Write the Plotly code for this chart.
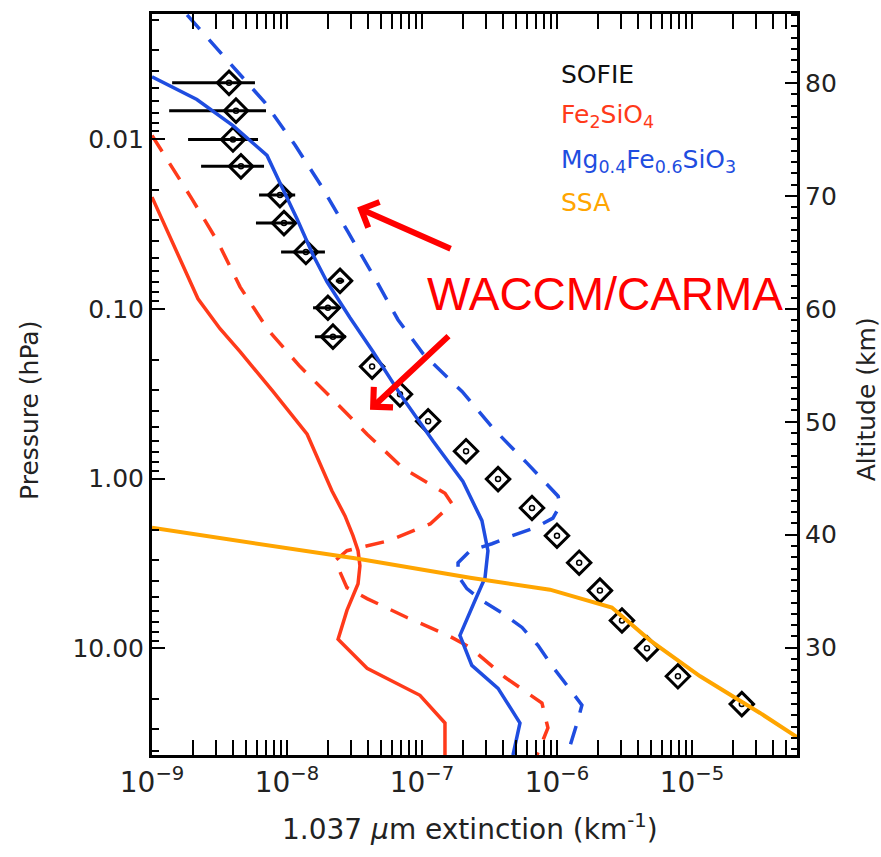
import plotly.graph_objects as go

# ---------------- data ----------------
# SOFIE observations: 1.037 um extinction (km^-1) vs pressure (hPa)
sofie_ext = [3.72e-9, 4.19e-9, 3.98e-9, 4.56e-9, 8.87e-9, 9.50e-9, 1.38e-8, 2.47e-8,
             2.01e-8, 2.19e-8, 4.27e-8, 6.87e-8, 1.11e-7, 2.12e-7, 3.66e-7, 6.53e-7,
             1.00e-6, 1.46e-6, 2.08e-6, 3.03e-6, 4.64e-6, 7.87e-6, 2.34e-5]
sofie_p = [0.00467, 0.00681, 0.01007, 0.01449, 0.0214, 0.0313, 0.0463, 0.0685,
           0.0987, 0.146, 0.219, 0.319, 0.460, 0.690, 1.007, 1.49,
           2.17, 3.13, 4.57, 6.85, 10.0, 14.6, 21.3]
sofie_lo = [1.41e-9, 1.34e-9, 1.85e-9, 2.31e-9, 6.21e-9, 5.89e-9, 9.04e-9, 2.30e-8,
            1.56e-8, 1.61e-8, 4.27e-8, 6.87e-8, 1.11e-7, 2.12e-7, 3.66e-7, 6.53e-7,
            1.00e-6, 1.46e-6, 2.08e-6, 3.03e-6, 4.64e-6, 7.87e-6, 2.34e-5]
sofie_hi = [5.79e-9, 6.99e-9, 6.10e-9, 6.76e-9, 1.15e-8, 1.15e-8, 1.91e-8, 2.65e-8,
            2.39e-8, 2.74e-8, 4.27e-8, 6.87e-8, 1.11e-7, 2.12e-7, 3.66e-7, 6.53e-7,
            1.00e-6, 1.46e-6, 2.08e-6, 3.03e-6, 4.64e-6, 7.87e-6, 2.34e-5]

# WACCM/CARMA Mg0.4Fe0.6SiO3 (solid)
mg_solid_ext = [1.00e-9, 2.15e-9, 3.98e-9, 7.11e-9, 9.33e-9, 1.19e-8, 1.56e-8, 1.98e-8,
                2.93e-8, 4.34e-8, 7.23e-8, 1.21e-7, 2.01e-7, 2.78e-7, 3.08e-7, 2.93e-7,
                2.47e-7, 1.91e-7, 2.34e-7, 3.66e-7, 5.32e-7, 4.72e-7]
mg_solid_p = [0.00430, 0.00586, 0.00834, 0.0125, 0.0198, 0.0297, 0.0482, 0.0695,
              0.113, 0.179, 0.337, 0.603, 1.04, 1.77, 2.66, 3.84,
              5.22, 8.39, 12.6, 17.2, 27.5, 42.5]

# WACCM/CARMA Mg0.4Fe0.6SiO3 (dashed)
mg_dash_ext = [1.82e-9, 6.87e-9, 1.15e-8, 1.82e-8, 2.83e-8, 4.34e-8, 6.64e-8, 1.02e-7,
               1.98e-7, 3.36e-7, 6.00e-7, 1.02e-6, 1.05e-6, 9.33e-7, 6.87e-7, 4.65e-7,
               3.30e-7, 2.27e-7, 1.85e-7, 1.85e-7, 2.15e-7, 2.78e-7, 3.98e-7, 5.51e-7,
               7.23e-7, 9.33e-7, 1.15e-6, 1.53e-6, 1.41e-6, 1.19e-6]
mg_dash_p = [0.00186, 0.00611, 0.0109, 0.0192, 0.0353, 0.0632, 0.116, 0.184,
             0.307, 0.506, 0.811, 1.27, 1.45, 1.71, 1.95, 2.17,
             2.42, 2.66, 3.13, 3.73, 4.45, 5.22, 6.23, 7.53,
             9.60, 12.9, 16.0, 21.6, 27.5, 42.5]

# WACCM/CARMA Fe2SiO4 (solid)
fe_solid_ext = [1.00e-9, 1.61e-9, 2.19e-9, 3.19e-9, 4.49e-9, 7.87e-9, 1.41e-8, 2.15e-8,
                2.69e-8, 3.08e-8, 3.36e-8, 3.47e-8, 3.36e-8, 2.78e-8, 2.39e-8, 3.92e-8,
                9.66e-8, 1.48e-7, 1.48e-7]
fe_solid_p = [0.0220, 0.0516, 0.0873, 0.131, 0.179, 0.307, 0.548, 1.18,
              1.66, 2.17, 2.66, 3.26, 4.16, 5.98, 8.85, 13.1,
              18.9, 27.5, 42.5]

# WACCM/CARMA Fe2SiO4 (dashed)
fe_dash_ext = [1.00e-9, 1.98e-9, 3.08e-9, 4.49e-9, 7.23e-9, 1.25e-8, 2.19e-8, 3.92e-8,
               7.23e-8, 1.00e-7, 1.48e-7, 1.67e-7, 1.15e-7, 5.60e-8, 2.78e-8, 2.27e-8,
               2.78e-8, 3.92e-8, 7.74e-8, 1.56e-7, 2.27e-7, 4.12e-7, 7.74e-7, 8.57e-7,
               7.11e-7]
fe_dash_p = [0.00953, 0.0226, 0.0405, 0.0743, 0.133, 0.219, 0.342, 0.548,
             0.867, 1.01, 1.22, 1.41, 1.85, 2.33, 2.66, 3.05,
             4.39, 5.09, 6.58, 8.39, 9.86, 14.8, 21.0, 29.4,
             42.5]

# SSA
ssa_ext = [1.00e-9, 3.36e-8, 2.27e-7, 8.87e-7, 2.55e-6, 4.89e-6, 1.15e-5, 3.19e-5, 6.00e-5]
ssa_p = [1.95, 2.97, 3.84, 4.51, 5.75, 8.97, 14.6, 24.0, 33.3]

# axes
ext_ticks = [1e-9, 1e-8, 1e-7, 1e-6, 1e-5]
ext_ticktext = ["10<sup>−9</sup>", "10<sup>−8</sup>", "10<sup>−7</sup>", "10<sup>−6</sup>", "10<sup>−5</sup>"]
p_ticks = [0.01, 0.1, 1, 10]
p_ticktext = ["0.01", "0.10", "1.00", "10.00"]
alt_ticks = [30, 40, 50, 60, 70, 80]

RED = "#ff3a1a"
BLUE = "#1f4de0"
ORANGE = "#ffa500"
TXT = "#222222"

fig = go.Figure()

err_plus = [h - v for h, v in zip(sofie_hi, sofie_ext)]
err_minus = [v - l for l, v in zip(sofie_lo, sofie_ext)]

fig.add_trace(go.Scatter(
    x=sofie_ext, y=sofie_p, mode="markers",
    marker=dict(symbol="diamond-open", size=18, color="black", line=dict(width=3, color="black")),
    error_x=dict(type="data", array=err_plus, arrayminus=err_minus, thickness=3, width=0, color="black"),
))
fig.add_trace(go.Scatter(
    x=sofie_ext, y=sofie_p, mode="markers",
    marker=dict(symbol="circle-open", size=5, color="black", line=dict(width=1.5, color="black")),
))

dash = "19px,14px"
fig.add_trace(go.Scatter(x=fe_solid_ext, y=fe_solid_p, mode="lines", line=dict(color=RED, width=3.5)))
fig.add_trace(go.Scatter(x=fe_dash_ext, y=fe_dash_p, mode="lines", line=dict(color=RED, width=3.5, dash=dash)))
fig.add_trace(go.Scatter(x=mg_solid_ext, y=mg_solid_p, mode="lines", line=dict(color=BLUE, width=3.5)))
fig.add_trace(go.Scatter(x=mg_dash_ext, y=mg_dash_p, mode="lines", line=dict(color=BLUE, width=3.5, dash=dash)))
fig.add_trace(go.Scatter(x=ssa_ext, y=ssa_p, mode="lines", line=dict(color=ORANGE, width=4)))

# dummy trace to activate the altitude axis
fig.add_trace(go.Scatter(x=[None], y=[None], yaxis="y2", mode="markers", hoverinfo="skip"))

x_minor = [m * 10.0 ** e for e in range(-9, -4) for m in range(2, 10)]
y_minor = [m * 10.0 ** e for e in range(-3, 2) for m in range(2, 10)]

fig.update_layout(
    width=881, height=857,
    margin=dict(l=152, r=84, t=11, b=102),
    plot_bgcolor="white", paper_bgcolor="white",
    showlegend=False,
    font=dict(family="DejaVu Sans", color=TXT),
    xaxis=dict(
        type="log", range=[-9, -4.222],
        tickmode="array", tickvals=ext_ticks, ticktext=ext_ticktext,
        showgrid=False, zeroline=False, showline=True, linecolor="black", linewidth=3,
        mirror="allticks", ticks="inside", ticklen=15, tickwidth=2, tickcolor="black",
        tickfont=dict(size=28, color=TXT),
        minor=dict(ticks="inside", ticklen=8, tickwidth=2, tickcolor="black",
                   tickmode="array", tickvals=x_minor, showgrid=False),
    ),
    yaxis=dict(
        type="log", range=[1.628, -2.736],
        tickmode="array", tickvals=p_ticks, ticktext=p_ticktext,
        showgrid=False, zeroline=False, showline=True, linecolor="black", linewidth=3,
        ticks="inside", ticklen=13, tickwidth=2, tickcolor="black",
        tickfont=dict(size=25, color=TXT),
        minor=dict(ticks="inside", ticklen=7, tickwidth=2, tickcolor="black",
                   tickmode="array", tickvals=y_minor, showgrid=False),
    ),
    yaxis2=dict(
        overlaying="y", side="right", range=[20.5, 86.1],
        tickmode="array", tickvals=alt_ticks,
        showgrid=False, zeroline=False, showline=True, linecolor="black", linewidth=3,
        ticks="inside", ticklen=12, tickwidth=2, tickcolor="black",
        tickfont=dict(size=25, color=TXT),
        minor=dict(ticks="inside", ticklen=6, tickwidth=1.5, tickcolor="black", dtick=1, showgrid=False),
    ),
)

annotations = [
    # axis titles
    dict(text="Pressure (hPa)", x=-0.19, y=0.465, xref="paper", yref="paper",
         textangle=-90, showarrow=False, font=dict(size=25, color=TXT),
         xanchor="center", yanchor="middle"),
    dict(text="Altitude (km)", x=1.107, y=0.48, xref="paper", yref="paper",
         textangle=-90, showarrow=False, font=dict(size=25, color=TXT),
         xanchor="center", yanchor="middle"),
    dict(text="1.037 <i>μ</i>m extinction (km<sup>-1</sup>)", x=0.493, y=-0.098,
         xref="paper", yref="paper", showarrow=False, font=dict(size=28, color=TXT),
         xanchor="center", yanchor="middle"),
    # legend texts
    dict(text="SOFIE", x=0.631, y=0.918, xref="paper", yref="paper", showarrow=False,
         xanchor="left", yanchor="middle", font=dict(size=25, color="#111111")),
    dict(text="Fe<sub>2</sub>SiO<sub>4</sub>", x=0.631, y=0.863, xref="paper", yref="paper",
         showarrow=False, xanchor="left", yanchor="middle", font=dict(size=25, color=RED)),
    dict(text="Mg<sub>0.4</sub>Fe<sub>0.6</sub>SiO<sub>3</sub>", x=0.631, y=0.801, xref="paper",
         yref="paper", showarrow=False, xanchor="left", yanchor="middle", font=dict(size=25, color=BLUE)),
    dict(text="SSA", x=0.631, y=0.746, xref="paper", yref="paper", showarrow=False,
         xanchor="left", yanchor="middle", font=dict(size=25, color=ORANGE)),
    # WACCM/CARMA label and arrows
    dict(text="WACCM/CARMA", x=0.702, y=0.622, xref="paper", yref="paper", showarrow=False,
         xanchor="center", yanchor="middle",
         font=dict(size=46, color="#ff0000", family="Liberation Sans")),
    dict(text="", x=0.318, y=0.739, xref="paper", yref="paper", showarrow=True,
         ax=95, ay=42, arrowcolor="#ff0000", arrowwidth=6, arrowhead=4, arrowsize=0.9),
    dict(text="", x=0.338, y=0.466, xref="paper", yref="paper", showarrow=True,
         ax=80, ay=-75, arrowcolor="#ff0000", arrowwidth=6, arrowhead=4, arrowsize=0.9),
]
fig.update_layout(annotations=annotations)

fig.write_html("out.html")
